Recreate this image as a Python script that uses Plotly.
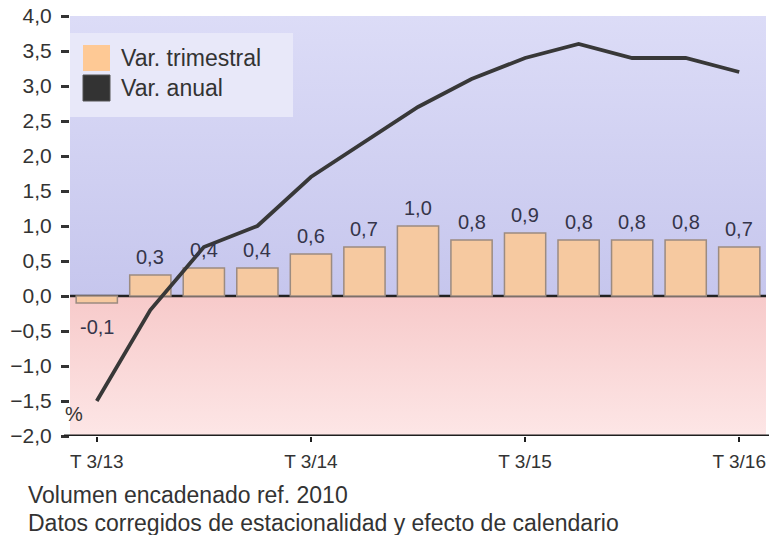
import plotly.graph_objects as go

# Quarterly GDP growth (chain-linked volume, seasonally and calendar adjusted)
quarters = ["T 3/13", "T 4/13", "T 1/14", "T 2/14", "T 3/14", "T 4/14", "T 1/15",
            "T 2/15", "T 3/15", "T 4/15", "T 1/16", "T 2/16", "T 3/16"]
var_trimestral = [-0.1, 0.3, 0.4, 0.4, 0.6, 0.7, 1.0, 0.8, 0.9, 0.8, 0.8, 0.8, 0.7]
var_anual = [-1.5, -0.2, 0.7, 1.0, 1.7, 2.2, 2.7, 3.1, 3.4, 3.6, 3.4, 3.4, 3.2]
tick_labels = ["T 3/13", "T 3/14", "T 3/15", "T 3/16"]
y_ticks = [-2.0, -1.5, -1.0, -0.5, 0.0, 0.5, 1.0, 1.5, 2.0, 2.5, 3.0, 3.5, 4.0]

FONT = "Liberation Sans, Arial, sans-serif"
TXT = "#333333"

xs = list(range(len(quarters)))
x_lo, x_hi = -0.5, len(quarters) - 0.5
y_lo, y_hi = y_ticks[0], y_ticks[-1]

fig = go.Figure()

# Shaded bands on the base axes: positive area (lavender), negative area (pink)
fig.add_trace(go.Scatter(
    x=[x_lo, x_hi, x_hi, x_lo, x_lo], y=[0, 0, y_hi, y_hi, 0],
    fill="toself", mode="none", hoverinfo="skip", showlegend=False,
    fillgradient=dict(type="vertical",
                      colorscale=[[0, "#c6c6ed"], [1, "#dcdcf7"]]),
))
fig.add_trace(go.Scatter(
    x=[x_lo, x_hi, x_hi, x_lo, x_lo], y=[y_lo, y_lo, 0, 0, y_lo],
    fill="toself", mode="none", hoverinfo="skip", showlegend=False,
    fillgradient=dict(type="vertical",
                      colorscale=[[0, "#fde6e6"], [1, "#f7caca"]]),
))
# zero line
fig.add_trace(go.Scatter(
    x=[x_lo, x_hi], y=[0, 0], mode="lines", hoverinfo="skip", showlegend=False,
    line=dict(color="#222222", width=2.5),
))

# Data series on an overlaid pair of axes so they sit above the bands
fig.add_trace(go.Bar(
    x=xs, y=var_trimestral, width=0.77, name="Var. trimestral",
    marker=dict(color="#f6c9a0", line=dict(color="#9c8b80", width=1.5)),
    hoverinfo="skip", showlegend=False, xaxis="x2", yaxis="y2",
))
fig.add_trace(go.Scatter(
    x=xs, y=var_anual, mode="lines", name="Var. anual",
    line=dict(color="#383838", width=3.8), hoverinfo="skip", showlegend=False,
    xaxis="x2", yaxis="y2",
))

annotations = []
for x, v in zip(xs, var_trimestral):
    annotations.append(dict(
        x=x, y=v, xref="x2", yref="y2", showarrow=False,
        text=f"{v:.1f}".replace(".", ","),
        yanchor="bottom" if v >= 0 else "top",
        yshift=5 if v >= 0 else -11,
        font=dict(family=FONT, size=20, color="#35354a"),
    ))

# Plot area in pixels: x 70..766, y 16..436
PL, PW, PB, PH = 70, 696, 436, 420


def px(x):
    return (x - PL) / PW


def py(y):
    return (PB - y) / PH


shapes = [
    # legend box and swatches
    dict(type="rect", xref="paper", yref="paper", x0=px(70), x1=px(293),
         y0=py(117), y1=py(33), fillcolor="#e8e8f9", line=dict(width=0), layer="above"),
    dict(type="rect", xref="paper", yref="paper", x0=px(83), x1=px(110),
         y0=py(71), y1=py(45), fillcolor="#fec995", line=dict(width=0), layer="above"),
    dict(type="rect", xref="paper", yref="paper", x0=px(83), x1=px(110),
         y0=py(101), y1=py(75), fillcolor="#333333",
         line=dict(color="#555555", width=1), layer="above"),
    # baseline of the category axis
    dict(type="line", xref="paper", yref="y", x0=px(64), x1=px(769),
         y0=y_lo, y1=y_lo, line=dict(color="#1e1e1e", width=3), layer="above"),
]

annotations += [
    dict(x=px(119), y=py(58), xref="paper", yref="paper", showarrow=False,
         xanchor="left", yanchor="middle", text="Var. trimestral",
         font=dict(family=FONT, size=23, color=TXT)),
    dict(x=px(119), y=py(88), xref="paper", yref="paper", showarrow=False,
         xanchor="left", yanchor="middle", text="Var. anual",
         font=dict(family=FONT, size=23, color=TXT)),
    dict(x=px(63), y=py(414), xref="paper", yref="paper", showarrow=False,
         xanchor="left", yanchor="middle", text="%",
         font=dict(family=FONT, size=20, color=TXT)),
    dict(x=px(26), y=py(495), xref="paper", yref="paper", showarrow=False,
         xanchor="left", yanchor="middle", text="Volumen encadenado ref. 2010",
         font=dict(family=FONT, size=23, color=TXT)),
    dict(x=px(26), y=py(523), xref="paper", yref="paper", showarrow=False,
         xanchor="left", yanchor="middle",
         text="Datos corregidos de estacionalidad y efecto de calendario",
         font=dict(family=FONT, size=23, color=TXT)),
]

fig.update_layout(
    width=769, height=535,
    margin=dict(l=PL, r=769 - PL - PW, t=PB - PH, b=535 - PB),
    paper_bgcolor="white", plot_bgcolor="white",
    separators=",.",
    font=dict(family=FONT, size=18, color=TXT),
    shapes=shapes, annotations=annotations,
    xaxis=dict(
        range=[x_lo, x_hi], showgrid=False, zeroline=False, showline=False,
        tickmode="array", tickvals=[quarters.index(t) for t in tick_labels],
        ticktext=tick_labels, ticks="outside", ticklen=5, tickwidth=2,
        tickcolor="#1e1e1e", ticklabelstandoff=3,
        tickfont=dict(family=FONT, size=19, color=TXT),
    ),
    yaxis=dict(
        range=[y_lo, y_hi], showgrid=False, showline=False, zeroline=False,
        tickmode="array", tickvals=y_ticks, tickformat=".1f",
        ticks="outside", ticklen=8, tickwidth=3, tickcolor="#333333",
        ticklabelstandoff=5,
        tickfont=dict(family=FONT, size=21, color=TXT),
    ),
    xaxis2=dict(range=[x_lo, x_hi], overlaying="x", visible=False),
    yaxis2=dict(range=[y_lo, y_hi], overlaying="y", visible=False),
    showlegend=False,
)

fig.write_html("out.html")
